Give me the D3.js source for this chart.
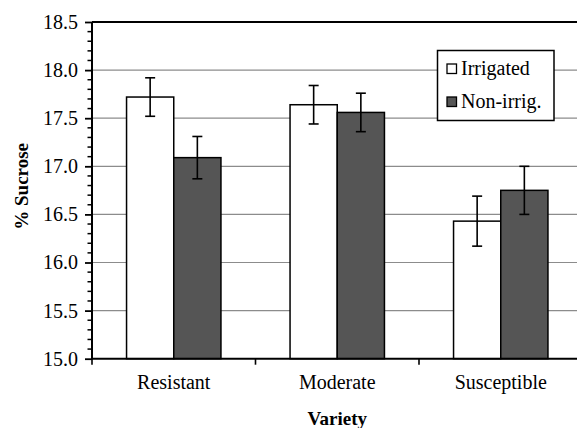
<!DOCTYPE html>
<html><head><meta charset="utf-8">
<script src="https://cdn.jsdelivr.net/npm/d3@7"></script>
<style>
html,body{margin:0;padding:0;background:#fff;overflow:hidden}
svg{display:block}
</style></head><body>
<script>
const categories = ["Resistant", "Moderate", "Susceptible"];
const seriesNames = ["Irrigated", "Non-irrig."];
const irrigated = [17.72, 17.64, 16.43];
const nonIrrigated = [17.09, 17.56, 16.75];
const irrigatedErr = [0.20, 0.20, 0.26];
const nonIrrigatedErr = [0.22, 0.20, 0.25];
const yTicks = [15.0, 15.5, 16.0, 16.5, 17.0, 17.5, 18.0, 18.5];
const colors = ["#ffffff", "#555555"];
const FONT = "Liberation Serif";

(function () {
const W = 577, H = 428;
const pL = 92, pR = 582.5, pT = 22, pB = 358.7;

const svg = d3.select("body").append("svg").attr("width", W).attr("height", H)
  .attr("font-family", FONT);

const x0 = d3.scaleBand().domain(categories).range([pL, pR]).padding(0);
const x1 = d3.scaleBand().domain(seriesNames).range([0, x0.bandwidth()]).paddingInner(0).paddingOuter(0.732);
const y = d3.scaleLinear().domain([15, 18.5]).range([pB, pT]);

svg.append("g").selectAll("line").data(yTicks.slice(1, -1)).join("line")
  .attr("x1", pL).attr("x2", pR)
  .attr("y1", d => y(d)).attr("y2", d => y(d))
  .attr("stroke", "#8c8c8c").attr("stroke-width", 1.2);

svg.append("line").attr("x1", pL).attr("x2", pR).attr("y1", y(18.5)).attr("y2", y(18.5))
  .attr("stroke", "#000").attr("stroke-width", 1.8);

const data = categories.map((c, i) => [
  {cat: c, s: seriesNames[0], v: irrigated[i], e: irrigatedErr[i], fill: colors[0]},
  {cat: c, s: seriesNames[1], v: nonIrrigated[i], e: nonIrrigatedErr[i], fill: colors[1]}
]).flat();

svg.append("g").selectAll("rect").data(data).join("rect")
  .attr("x", d => x0(d.cat) + x1(d.s))
  .attr("width", x1.bandwidth())
  .attr("y", d => y(d.v))
  .attr("height", d => y(15) - y(d.v))
  .attr("fill", d => d.fill)
  .attr("stroke", "#000").attr("stroke-width", 1.5);

const eg = svg.append("g").attr("stroke", "#000").attr("stroke-width", 1.6);
data.forEach(d => {
  const cx = x0(d.cat) + x1(d.s) + x1.bandwidth() / 2;
  eg.append("line").attr("x1", cx).attr("x2", cx).attr("y1", y(d.v + d.e)).attr("y2", y(d.v - d.e));
  eg.append("line").attr("x1", cx - 5).attr("x2", cx + 5).attr("y1", y(d.v + d.e)).attr("y2", y(d.v + d.e));
  eg.append("line").attr("x1", cx - 5).attr("x2", cx + 5).attr("y1", y(d.v - d.e)).attr("y2", y(d.v - d.e));
});

const yAxisG = svg.append("g").attr("transform", `translate(${pL},0)`)
  .call(d3.axisLeft(y).tickValues(yTicks).tickFormat(d3.format(".1f")).tickSize(7).tickPadding(7));
yAxisG.attr("font-family", FONT).attr("font-size", 20);
yAxisG.select(".domain").remove();
yAxisG.selectAll(".tick line").attr("stroke", "#000").attr("stroke-width", 1.8);
yAxisG.selectAll(".tick text").attr("fill", "#000").attr("font-family", FONT).attr("font-size", 20);
const minor = d3.range(150, 185).map(v => v / 10).filter(v => Math.abs(v * 2 - Math.round(v * 2)) > 1e-6);
svg.append("g").selectAll("line").data(minor).join("line")
  .attr("x1", pL - 4.5).attr("x2", pL).attr("y1", d => y(d)).attr("y2", d => y(d))
  .attr("stroke", "#000").attr("stroke-width", 1.5);
svg.append("line").attr("x1", pL).attr("x2", pL).attr("y1", pT).attr("y2", pB + 0.5)
  .attr("stroke", "#000").attr("stroke-width", 2);

svg.append("line").attr("x1", pL).attr("x2", pR).attr("y1", pB).attr("y2", pB)
  .attr("stroke", "#000").attr("stroke-width", 2);
const catTicks = categories.map(c => x0(c)).concat([pR]);
svg.append("g").selectAll("line").data(catTicks).join("line")
  .attr("x1", d => d).attr("x2", d => d).attr("y1", pB).attr("y2", pB + 6)
  .attr("stroke", "#000").attr("stroke-width", 1.6);
svg.append("g").selectAll("text").data(categories).join("text")
  .attr("x", d => x0(d) + x0.bandwidth() / 2).attr("y", 389)
  .attr("font-family", FONT)
  .attr("text-anchor", "middle").attr("font-size", 20).text(d => d);

svg.append("text").attr("x", (pL + pR) / 2).attr("y", 425).attr("font-family", FONT)
  .attr("text-anchor", "middle").attr("font-size", 19).attr("font-weight", "bold").text("Variety");
svg.append("text").attr("transform", `translate(28,${(pT + pB) / 2 - 4}) rotate(-90)`).attr("font-family", FONT)
  .attr("text-anchor", "middle").attr("font-size", 19).attr("font-weight", "bold").text("% Sucrose");

const lg = svg.append("g");
lg.append("rect").attr("x", 437.5).attr("y", 50.5).attr("width", 116.5).attr("height", 70)
  .attr("fill", "#fff").attr("stroke", "#000").attr("stroke-width", 1.5);
seriesNames.forEach((s, i) => {
  const yy = 64 + i * 33;
  lg.append("rect").attr("x", 447).attr("y", yy).attr("width", 9.5).attr("height", 9.5)
    .attr("fill", colors[i]).attr("stroke", "#000").attr("stroke-width", 1.3);
  lg.append("text").attr("x", 461).attr("y", yy + 10.5).attr("font-family", FONT)
    .attr("font-size", 20).text(s);
});
})();
</script>
</body></html>
